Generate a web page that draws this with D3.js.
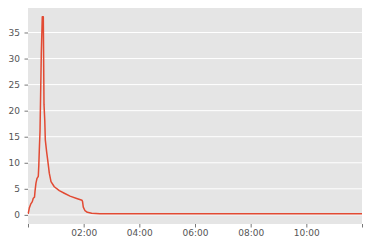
<!DOCTYPE html>
<html>
<head>
<meta charset="utf-8">
<script src="https://cdn.jsdelivr.net/npm/d3@7"></script>
<style>
  body { margin: 0; background: #fff; }
  .chart text { font-family: "DejaVu Sans", sans-serif; font-size: 9px; fill: #555; }
</style>
</head>
<body>
<div class="chart"></div>
<script>
// minutes after 00:00 and the measured value
const minutes = [0, 0.6, 2.8, 5.8, 9.3, 11.4, 14, 15.1, 17.2, 19.4, 22.2, 23.3, 24.4, 25.9, 27.4,
  28.7, 30.8, 33.0, 34.5, 36.2, 37.3, 40.3, 42.5, 45.9, 49.6, 56.7, 67.5, 78.3, 90.6, 105,
  116.4, 117.5, 119.2, 122.9, 127.9, 137.3, 155, 720];
const values = [0.3, 0.3, 1.3, 2.05, 2.55, 3.2, 3.4, 4.5, 6.1, 7.0, 7.4, 9.5, 12.5, 16, 24,
  31, 38, 38, 21.2, 18, 14.4, 12.0, 10.5, 8.0, 6.4, 5.4, 4.65, 4.15, 3.6, 3.15,
  2.8, 2.6, 1.5, 0.8, 0.5, 0.3, 0.22, 0.2];
const yTicks = [0, 5, 10, 15, 20, 25, 30, 35];
const xTickHours = [0, 2, 4, 6, 8, 10, 12];

const width = 368, height = 247;
const margin = { top: 8, right: 6, bottom: 23, left: 28 };

const base = new Date(2020, 0, 1, 0, 0);
const data = minutes.map((m, i) => ({ t: new Date(base.getTime() + m * 60000), v: values[i] }));

const svg = d3.select('.chart').append('svg')
  .attr('width', width)
  .attr('height', height);

const xScale = d3.scaleTime()
  .domain([base, d3.timeHour.offset(base, 12)])
  .range([margin.left, width - margin.right]);

const yScale = d3.scaleLinear()
  .domain([-1.75, 39.7])
  .range([height - margin.bottom, margin.top]);

svg.append('rect')
  .attr('x', margin.left)
  .attr('y', margin.top)
  .attr('width', width - margin.left - margin.right)
  .attr('height', height - margin.top - margin.bottom)
  .style('fill', '#e5e5e5');

// horizontal grid only
svg.append('g')
  .selectAll('line')
  .data(yTicks)
  .enter()
  .append('line')
  .attr('x1', margin.left)
  .attr('x2', width - margin.right)
  .attr('y1', d => yScale(d))
  .attr('y2', d => yScale(d))
  .style('stroke', '#fff')
  .style('stroke-width', 1);

const fmt = d3.timeFormat('%H:%M');
const xAxis = svg.append('g')
  .attr('transform', 'translate(0,' + (height - margin.bottom) + ')')
  .call(d3.axisBottom(xScale)
    .tickValues(xTickHours.map(h => d3.timeHour.offset(base, h)))
    .tickSize(3.5)
    .tickPadding(2.5)
    .tickFormat((d, i) => (i === 0 || i === xTickHours.length - 1) ? '' : fmt(d)));

const yAxis = svg.append('g')
  .attr('transform', 'translate(' + margin.left + ',0)')
  .call(d3.axisLeft(yScale)
    .tickValues(yTicks)
    .tickSize(3.5)
    .tickPadding(4.5));

[xAxis, yAxis].forEach(a => {
  a.select('.domain').remove();
  a.selectAll('line').style('stroke', '#555').style('stroke-width', 0.8);
  a.selectAll('text').style('fill', '#555').style('font-size', '9px');
});

const line = d3.line()
  .x(d => xScale(d.t))
  .y(d => yScale(d.v));

svg.append('path')
  .datum(data)
  .attr('d', line)
  .style('fill', 'none')
  .style('stroke', '#e24a33')
  .style('stroke-width', 1.5)
  .style('stroke-linejoin', 'round');
</script>
</body>
</html>
